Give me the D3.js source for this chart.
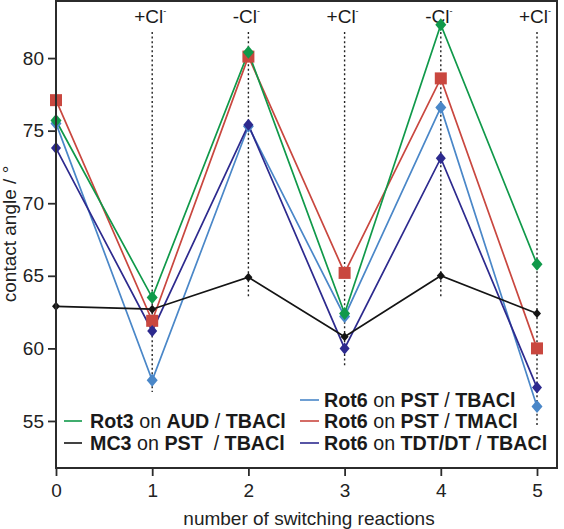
<!DOCTYPE html>
<html>
<head>
<meta charset="utf-8">
<script src="https://cdn.jsdelivr.net/npm/d3@7"></script>
<style>
  html, body { margin: 0; padding: 0; background: #fff; }
  svg { display: block; font-family: "Liberation Sans", Arial, sans-serif; }
</style>
</head>
<body>
<svg id="chart" width="564" height="529"></svg>
<script>
// ---- data ----
const reactions = [0, 1, 2, 3, 4, 5];
const xTicks = [0, 1, 2, 3, 4, 5];
const yTicks = [55, 60, 65, 70, 75, 80];

const rot6PstTbacl = [75.5, 57.8, 75.3, 62.2, 76.6, 56.0];
const rot6PstTmacl = [77.1, 61.9, 80.1, 65.2, 78.6, 60.0];
const rot6TdtTbacl = [73.8, 61.2, 75.4, 60.0, 73.1, 57.3];
const rot3AudTbacl = [75.7, 63.5, 80.4, 62.4, 82.3, 65.8];
const mc3PstTbacl  = [62.9, 62.7, 64.9, 60.8, 65.0, 62.4];

const switchSteps = [1, 2, 3, 4, 5];
const switchLabels = ["+Cl", "-Cl", "+Cl", "-Cl", "+Cl"];
const guideTop = 81.8;
const guideBottom = [57.0, 63.5, 58.8, 63.5, 54.6];

const labelRot6PstTbacl = [["Rot6", true], [" on ", false], ["PST", true], [" / ", false], ["TBACl", true]];
const labelRot6PstTmacl = [["Rot6", true], [" on ", false], ["PST", true], [" / ", false], ["TMACl", true]];
const labelRot6TdtTbacl = [["Rot6", true], [" on ", false], ["TDT/DT", true], [" / ", false], ["TBACl", true]];
const labelRot3AudTbacl = [["Rot3", true], [" on ", false], ["AUD", true], [" / ", false], ["TBACl", true]];
const labelMc3PstTbacl  = [["MC3", true], [" on ", false], ["PST", true], ["  / ", false], ["TBACl", true]];

(function () {
// ---- series (draw order back to front) ----
const series = [
  { values: rot6PstTbacl, color: "#4a87c8", marker: "diamond", mw: 5.5, mh: 6.5, label: labelRot6PstTbacl, leg: [1, 0] },
  { values: rot6PstTmacl, color: "#c9473f", marker: "square",  mw: 6,   mh: 6,   label: labelRot6PstTmacl, leg: [1, 1] },
  { values: rot6TdtTbacl, color: "#2d2a8e", marker: "diamond", mw: 5,   mh: 6,   label: labelRot6TdtTbacl, leg: [1, 2] },
  { values: rot3AudTbacl, color: "#10994a", marker: "diamond", mw: 5.5, mh: 6.5, label: labelRot3AudTbacl, leg: [0, 1] },
  { values: mc3PstTbacl,  color: "#141414", marker: "diamond", mw: 4,   mh: 4.5, label: labelMc3PstTbacl,  leg: [0, 2] }
];

// ---- layout ----
const svg = d3.select("#chart");
const pLeft = 56, pRight = 557, pTop = 1, pBottom = 468;
const x = d3.scaleLinear().domain([0, 5]).range([56, 537]);
const y = d3.scaleLinear().domain([51.76, 84.0]).range([pBottom, 0]);
const axisColor = "#2b2b2b";
const fontSize = 19;
const legendFont = 19.7;

// dotted guide lines
svg.append("g").selectAll("line").data(switchSteps).join("line")
  .attr("x1", d => x(d)).attr("x2", d => x(d))
  .attr("y1", y(guideTop))
  .attr("y2", (d, i) => y(guideBottom[i]))
  .attr("stroke", "#222").attr("stroke-width", 1.4)
  .attr("stroke-dasharray", "2,2.6");

// annotation labels
const ann = svg.append("g").selectAll("text").data(switchSteps).join("text")
  .attr("x", d => x(d) - 2).attr("y", 23)
  .attr("text-anchor", "middle")
  .attr("font-size", fontSize).attr("fill", "#1a1a1a");
ann.append("tspan").text((d, i) => switchLabels[i]);
ann.append("tspan").attr("font-size", 9).attr("dy", -9).text("-");

// series lines & markers
const line = d3.line().x((d, i) => x(reactions[i])).y(d => y(d));
series.forEach(s => {
  svg.append("path").datum(s.values)
    .attr("d", line).attr("fill", "none")
    .attr("stroke", s.color).attr("stroke-width", 1.7);
});
series.forEach(s => {
  const g = svg.append("g");
  s.values.forEach((v, i) => {
    const cx = x(reactions[i]), cy = y(v);
    if (s.marker === "square") {
      g.append("rect").attr("x", cx - s.mw).attr("y", cy - s.mh)
        .attr("width", 2 * s.mw).attr("height", 2 * s.mh).attr("fill", s.color);
    } else {
      g.append("path")
        .attr("d", `M${cx},${cy - s.mh}L${cx + s.mw},${cy}L${cx},${cy + s.mh}L${cx - s.mw},${cy}Z`)
        .attr("fill", s.color);
    }
  });
});

// axes
const xAxis = svg.append("g").attr("transform", `translate(0,${pBottom})`)
  .call(d3.axisBottom(x).tickValues(xTicks).tickSize(8).tickPadding(8).tickFormat(d3.format("d")));
const yAxis = svg.append("g").attr("transform", `translate(${pLeft},0)`)
  .call(d3.axisLeft(y).tickValues(yTicks).tickSize(8).tickPadding(4).tickFormat(d3.format("d")));
[xAxis, yAxis].forEach(a => {
  a.select(".domain").remove();
  a.selectAll(".tick line").attr("stroke", axisColor).attr("stroke-width", 1.8);
  a.selectAll(".tick text").attr("font-size", fontSize).attr("fill", "#222")
    .attr("font-family", "Liberation Sans, Arial, sans-serif");
});

// frame
svg.append("rect").attr("x", pLeft).attr("y", pTop)
  .attr("width", pRight - pLeft).attr("height", pBottom - pTop)
  .attr("fill", "none").attr("stroke", axisColor).attr("stroke-width", 2);

// axis titles
svg.append("text").attr("x", 309).attr("y", 525).attr("text-anchor", "middle")
  .attr("font-size", fontSize).attr("fill", "#222").text("number of switching reactions");
svg.append("text").attr("transform", `translate(16,234) rotate(-90)`).attr("text-anchor", "middle")
  .attr("font-size", fontSize).attr("fill", "#222").text("contact angle / °");

// legend
const legCols = [{ lx1: 64, lx2: 82, tx: 90 }, { lx1: 300, lx2: 319, tx: 324 }];
const legRows = [407, 428, 450];
series.forEach(s => {
  const c = legCols[s.leg[0]], by = legRows[s.leg[1]];
  svg.append("line").attr("x1", c.lx1).attr("x2", c.lx2)
    .attr("y1", by - 7).attr("y2", by - 7)
    .attr("stroke", s.color).attr("stroke-width", 1.6);
  const t = svg.append("text").attr("x", c.tx).attr("y", by)
    .attr("font-size", legendFont).attr("fill", "#1a1a1a")
    .style("white-space", "pre");
  s.label.forEach(p => {
    t.append("tspan").attr("font-weight", p[1] ? "bold" : "normal").text(p[0]);
  });
});
})();
</script>
</body>
</html>
